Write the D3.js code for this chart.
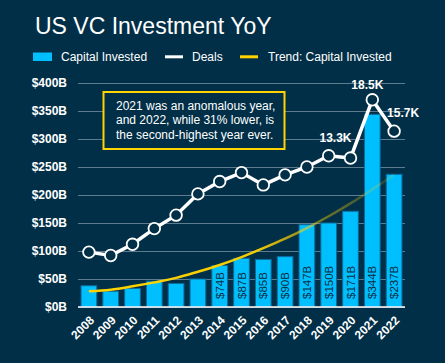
<!DOCTYPE html>
<html>
<head>
<meta charset="utf-8">
<script src="https://cdn.jsdelivr.net/npm/d3@7"></script>
<style>
  body { margin: 0; background: #012f47; }
  svg { display: block; font-family: "Liberation Sans", Arial, sans-serif; }
</style>
</head>
<body>
<div id="chart"></div>
<script>
// data
const years = ["2008","2009","2010","2011","2012","2013","2014","2015","2016","2017","2018","2019","2020","2021","2022"];
const capital = [38, 28, 33, 46, 42, 50, 74, 87, 85, 90, 147, 150, 171, 344, 237];   // $B
const deals = [4.9, 4.6, 5.6, 7.0, 8.2, 10.1, 11.2, 12.0, 10.9, 11.8, 12.5, 13.5, 13.3, 18.5, 15.7]; // K
const trend = [28, 31, 37, 44, 52, 63, 75, 89, 105, 122, 141, 162, 185, 210, 236];  // $B
const yTicks = [0, 50, 100, 150, 200, 250, 300, 350, 400];
const labelledYears = ["2014","2015","2016","2017","2018","2019","2020","2021","2022"];
const dealLabels = { "2020": "13.3K", "2021": "18.5K", "2022": "15.7K" };
const note = ["2021 was an anomalous year,", "and 2022, while 31% lower, is", "the second-highest year ever."];

const W = 445, H = 363;
const mLeft = 78, mRight = 405, mTop = 83, mBottom = 307;

const svg = d3.select("#chart").append("svg")
    .attr("width", W).attr("height", H);

svg.append("rect").attr("width", W).attr("height", H).attr("fill", "#012f47");

const x = d3.scaleBand().domain(years).range([mLeft, mRight]).paddingInner(0.28).paddingOuter(0.14);
const y = d3.scaleLinear().domain([0, 400]).range([mBottom, mTop]);
const y2 = d3.scaleLinear().domain([0, 20]).range([mBottom, mTop]);
const cx = d => x(d) + x.bandwidth() / 2;

// title
svg.append("text").attr("x", 35).attr("y", 34)
    .attr("fill", "#ffffff").style("font-size", "23px")
    .text("US VC Investment YoY");

// legend
const lg = svg.append("g").style("font-size", "12px").attr("fill", "#ffffff");
lg.append("rect").attr("x", 33).attr("y", 52.5).attr("width", 19).attr("height", 8.5).attr("fill", "#00bfff");
lg.append("text").attr("x", 61).attr("y", 61).text("Capital Invested");
lg.append("rect").attr("x", 165).attr("y", 55.3).attr("width", 18).attr("height", 3).attr("fill", "#ffffff");
lg.append("text").attr("x", 192).attr("y", 61).text("Deals");
lg.append("rect").attr("x", 240).attr("y", 55.3).attr("width", 18).attr("height", 3).attr("fill", "#ffd400");
lg.append("text").attr("x", 268).attr("y", 61).text("Trend: Capital Invested");

// y axis + grid
const yAxis = svg.append("g").attr("transform", `translate(${mLeft},0)`)
    .call(d3.axisLeft(y).tickValues(yTicks).tickSize(-(mRight - mLeft)).tickPadding(11)
        .tickFormat(d => "$" + d + "B"));
yAxis.select(".domain").remove();
yAxis.selectAll("line").attr("stroke", "#5d7d8f").attr("stroke-width", 1);
yAxis.selectAll("text").attr("fill", "#ffffff").style("font-size", "12px").style("font-weight", "bold");

// bars
svg.append("g").selectAll("rect").data(years).join("rect")
    .attr("x", d => x(d))
    .attr("y", (d, i) => y(capital[i]))
    .attr("width", x.bandwidth())
    .attr("height", (d, i) => mBottom - y(capital[i]))
    .attr("fill", "#00bfff")
    .attr("stroke", "#0a6b9c").attr("stroke-width", 1);

// bar value labels
svg.append("g").selectAll("text").data(years.filter(d => labelledYears.includes(d))).join("text")
    .attr("transform", d => `translate(${cx(d) + 4},${mBottom - 8}) rotate(-90)`)
    .attr("fill", "#0b2b40").style("font-size", "11.5px")
    .text(d => "$" + capital[years.indexOf(d)] + "B");

// x axis
const xAxis = svg.append("g").attr("transform", `translate(0,${mBottom})`)
    .call(d3.axisBottom(x).tickSize(0).tickPadding(0));
xAxis.select(".domain").attr("stroke", "#ffffff").attr("stroke-width", 1.5)
    .attr("d", `M${mLeft},0H${mRight}`);
xAxis.selectAll("text")
    .attr("fill", "#ffffff").style("font-size", "12px").style("font-weight", "bold")
    .attr("text-anchor", "end")
    .attr("dy", 0).attr("y", 0)
    .attr("transform", "translate(6,14) rotate(-45)");

// trend line with fading gradient
const grad = svg.append("defs").append("linearGradient").attr("id", "trendGrad")
    .attr("gradientUnits", "userSpaceOnUse")
    .attr("x1", cx(years[0])).attr("x2", cx(years[years.length - 1]))
    .attr("y1", 0).attr("y2", 0);
grad.append("stop").attr("offset", "0%").attr("stop-color", "#ffd400").attr("stop-opacity", 1);
grad.append("stop").attr("offset", "55%").attr("stop-color", "#ffd400").attr("stop-opacity", 0.95);
grad.append("stop").attr("offset", "75%").attr("stop-color", "#ffd400").attr("stop-opacity", 0.45);
grad.append("stop").attr("offset", "100%").attr("stop-color", "#ffd400").attr("stop-opacity", 0.12);

svg.append("path").datum(years)
    .attr("fill", "none").attr("stroke", "url(#trendGrad)").attr("stroke-width", 2.5)
    .attr("d", d3.line().x(d => cx(d)).y((d, i) => y(trend[i])).curve(d3.curveMonotoneX));

// deals line
svg.append("path").datum(years)
    .attr("fill", "none").attr("stroke", "#ffffff").attr("stroke-width", 3.5)
    .attr("d", d3.line().x(d => cx(d)).y((d, i) => y2(deals[i])));

svg.append("g").selectAll("circle").data(years).join("circle")
    .attr("cx", d => cx(d)).attr("cy", (d, i) => y2(deals[i]))
    .attr("r", 5.8)
    .attr("fill", "#012f47").attr("stroke", "#ffffff").attr("stroke-width", 1.8);

// deal labels
const dl = svg.append("g").attr("fill", "#ffffff").style("font-size", "12px").style("font-weight", "bold");
dl.append("text").attr("x", cx("2020") + 1).attr("y", y2(13.3) - 16).attr("text-anchor", "end").text(dealLabels["2020"]);
dl.append("text").attr("x", cx("2021") - 5).attr("y", y2(18.5) - 11).attr("text-anchor", "middle").text(dealLabels["2021"]);
dl.append("text").attr("x", cx("2022") - 7).attr("y", y2(15.7) - 14).attr("text-anchor", "start").text(dealLabels["2022"]);

// annotation box
svg.append("rect").attr("x", 103.5).attr("y", 92).attr("width", 181).attr("height", 57)
    .attr("fill", "#012f47").attr("stroke", "#ffd400").attr("stroke-width", 2);
svg.append("g").attr("fill", "#ffffff").style("font-size", "12px")
    .selectAll("text").data(note).join("text")
    .attr("x", 116).attr("y", (d, i) => 110 + i * 14.3)
    .text(d => d);
</script>
</body>
</html>
